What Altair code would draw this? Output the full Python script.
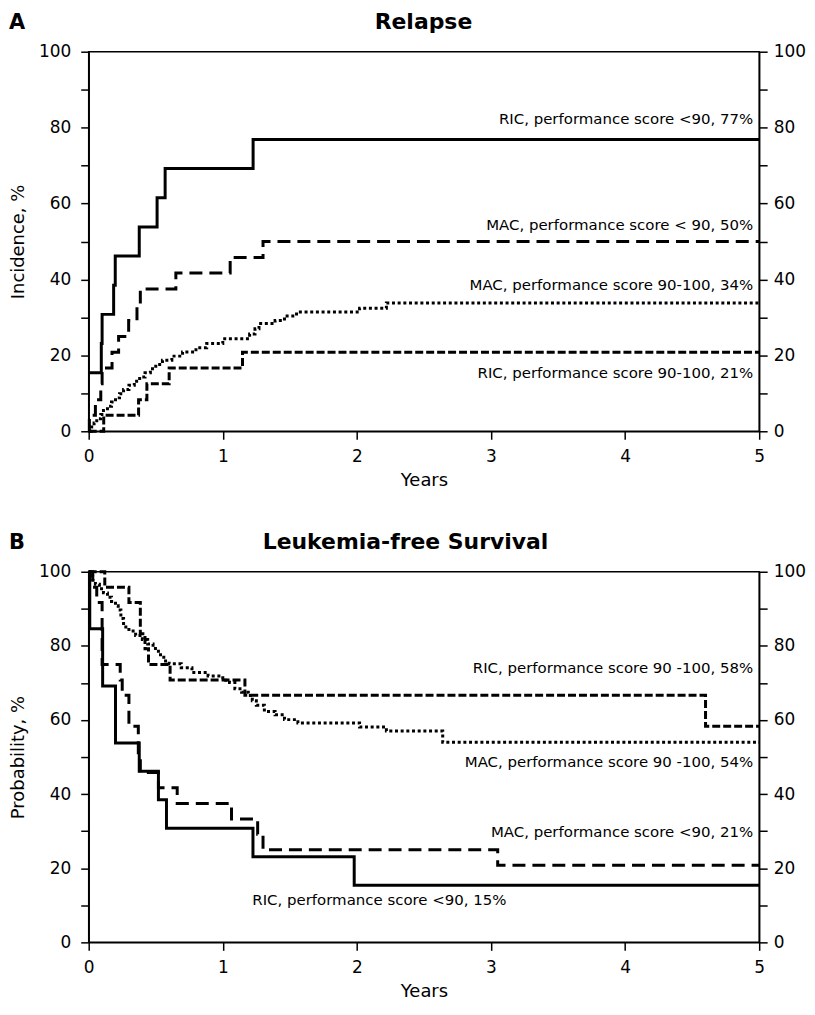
import altair as alt
import pandas as pd

FONT = "DejaVu Sans"

# ---------------- data ----------------
year_ticks = [0, 1, 2, 3, 4, 5]
pct_ticks = [0, 10, 20, 30, 40, 50, 60, 70, 80, 90, 100]

S_RIC_LT = "RIC <90"
S_MAC_LT = "MAC <90"
S_MAC_HI = "MAC 90-100"
S_RIC_HI = "RIC 90-100"
series_order = [S_RIC_LT, S_MAC_LT, S_MAC_HI, S_RIC_HI]

# Panel A: Relapse (cumulative incidence, %)
rel_ric_lt_t = [0, 0.094, 0.10, 0.186, 0.198, 0.377, 0.51, 0.57, 1.226, 5]
rel_ric_lt_v = [15.4, 23.1, 30.8, 38.5, 46.2, 53.8, 61.5, 69.2, 76.9, 76.9]

rel_mac_lt_t = [0, 0.005, 0.05, 0.09, 0.10, 0.174, 0.223, 0.298, 0.36, 0.385, 0.65, 1.055, 1.30, 5]
rel_mac_lt_v = [0, 4.2, 8.3, 12.5, 16.7, 20.8, 25.0, 29.2, 33.3, 37.5, 41.7, 45.8, 50.0, 50.0]

rel_mac_hi_t = [0, 0.02, 0.04, 0.06, 0.09, 0.11, 0.14, 0.17, 0.20, 0.23, 0.26, 0.30, 0.34, 0.38,
                0.42, 0.46, 0.50, 0.55, 0.62, 0.70, 0.80, 0.88, 1.00, 1.20, 1.24, 1.27, 1.39,
                1.46, 1.55, 2.02, 2.22, 5]
rel_mac_hi_v = [0, 1.1, 2.2, 3.3, 4.4, 5.5, 6.6, 7.7, 8.8, 9.9, 11.0, 12.1, 13.2, 14.3,
                15.4, 16.5, 17.6, 18.7, 19.8, 20.9, 22.0, 23.1, 24.4, 25.6, 27.0, 28.4, 29.2,
                30.4, 31.4, 32.4, 33.8, 33.8]

rel_ric_hi_t = [0, 0.112, 0.372, 0.434, 0.60, 1.147, 5]
rel_ric_hi_v = [0, 4.2, 8.3, 12.5, 16.7, 20.8, 20.8]

# Panel B: Leukemia-free survival (probability, %)
lfs_ric_lt_t = [0, 0.008, 0.104, 0.20, 0.377, 0.52, 0.58, 1.225, 1.98, 5]
lfs_ric_lt_v = [100, 84.6, 69.2, 53.8, 46.2, 38.5, 30.8, 23.1, 15.4, 15.4]

lfs_mac_lt_t = [0, 0.03, 0.06, 0.10, 0.235, 0.25, 0.30, 0.37, 0.385, 0.52, 0.66, 1.065, 1.26, 1.30, 3.05, 5]
lfs_mac_lt_v = [100, 95.8, 91.7, 75.0, 70.8, 66.7, 58.3, 50.0, 45.8, 41.7, 37.5, 33.3, 29.2, 25.0, 20.8, 20.8]

lfs_mac_hi_t = [0, 0.01, 0.03, 0.05, 0.08, 0.11, 0.14, 0.17, 0.20, 0.22, 0.24, 0.26, 0.30, 0.35,
                0.40, 0.44, 0.48, 0.52, 0.56, 0.60, 0.69, 0.77, 0.89, 1.00, 1.05, 1.09, 1.14,
                1.19, 1.22, 1.25, 1.31, 1.39, 1.46, 1.56, 2.02, 2.22, 2.64, 5]
lfs_mac_hi_v = [100, 98.9, 97.7, 96.6, 95.4, 94.3, 93.1, 92.0, 90.8, 89.7, 87.4, 85.1, 84.0, 82.8,
                81.7, 80.5, 79.3, 77.6, 75.9, 75.2, 74.1, 72.8, 71.9, 70.7, 70.1, 68.4, 67.5,
                66.6, 65.2, 64.0, 62.3, 61.4, 60.1, 59.2, 58.1, 57.0, 54.0, 54.0]

lfs_ric_hi_t = [0, 0.12, 0.30, 0.385, 0.42, 0.446, 0.607, 1.165, 4.6, 5]
lfs_ric_hi_v = [100, 95.8, 91.7, 83.3, 79.2, 75.0, 70.8, 66.7, 58.3, 58.3]

# curve annotations
rel_label_text = ["RIC, performance score <90, 77%", "MAC, performance score < 90, 50%",
                  "MAC, performance score 90-100, 34%", "RIC, performance score 90-100, 21%"]
rel_label_x = [5, 5, 5, 5]
rel_label_y = [82.2, 54.3, 38.5, 15.4]

lfs_label_text = ["RIC, performance score 90 -100, 58%", "MAC, performance score 90 -100, 54%",
                  "MAC, performance score <90, 21%"]
lfs_label_x = [5, 5, 5]
lfs_label_y = [73.9, 48.6, 29.9]

lfs_left_text = ["RIC, performance score <90, 15%"]
lfs_left_x = [1.22]
lfs_left_y = [11.5]


def curves(spec):
    rows = []
    for name, ts, vs in spec:
        for t, v in zip(ts, vs):
            rows.append({"series": name, "t": t, "v": v})
    return pd.DataFrame(rows)


rel_df = curves([(S_RIC_LT, rel_ric_lt_t, rel_ric_lt_v), (S_MAC_LT, rel_mac_lt_t, rel_mac_lt_v),
                 (S_MAC_HI, rel_mac_hi_t, rel_mac_hi_v), (S_RIC_HI, rel_ric_hi_t, rel_ric_hi_v)])
lfs_df = curves([(S_RIC_LT, lfs_ric_lt_t, lfs_ric_lt_v), (S_MAC_LT, lfs_mac_lt_t, lfs_mac_lt_v),
                 (S_MAC_HI, lfs_mac_hi_t, lfs_mac_hi_v), (S_RIC_HI, lfs_ric_hi_t, lfs_ric_hi_v)])

PLOT_W = 673

x_scale = alt.Scale(domain=[0, 5], nice=False, zero=False)
y_scale = alt.Scale(domain=[0, 100], nice=False)
dash_scale = alt.Scale(domain=series_order, range=[[1, 0], [13, 7], [3, 2.7], [8, 3]])
label_expr = "datum.value % 20 == 0 ? datum.label : ''"


def panel(df, ytitle, letter, title, title_x, height, labels_r, labels_l=None):
    x_axis = alt.Axis(values=year_ticks, format="d", title="Years", labelPadding=9, titlePadding=7,
                      labelFlush=False)
    y_left = alt.Axis(values=pct_ticks, labelExpr=label_expr, title=ytitle, orient="left",
                      labelPadding=10, titlePadding=11)
    y_right = alt.Axis(values=pct_ticks, labelExpr=label_expr, title=None, orient="right",
                       labelPadding=6)

    lines = alt.Chart(df).mark_line(interpolate="step-after", strokeWidth=3, color="black").encode(
        x=alt.X("t:Q", scale=x_scale, axis=x_axis),
        y=alt.Y("v:Q", scale=y_scale, axis=y_left),
        strokeDash=alt.StrokeDash("series:N", scale=dash_scale, legend=None),
    )
    right = alt.Chart(df).mark_point(opacity=0, size=1).encode(
        x=alt.X("t:Q", scale=x_scale, axis=None),
        y=alt.Y("v:Q", scale=y_scale, axis=y_right),
    )
    lt, lx, ly = labels_r
    lab_df = pd.DataFrame({"label": lt, "lx": lx, "ly": ly})
    texts = alt.Chart(lab_df).mark_text(font=FONT, fontSize=15, align="right", baseline="middle",
                                        dx=-6, color="black").encode(
        x=alt.X("lx:Q", scale=x_scale, axis=None),
        y=alt.Y("ly:Q", scale=y_scale, axis=None),
        text="label:N",
    )
    layers = [lines, right, texts]
    if labels_l is not None:
        lt2, lx2, ly2 = labels_l
        lab2 = pd.DataFrame({"label": lt2, "lx": lx2, "ly": ly2})
        layers.append(alt.Chart(lab2).mark_text(font=FONT, fontSize=15, align="left",
                                                baseline="middle", color="black").encode(
            x=alt.X("lx:Q", scale=x_scale, axis=None),
            y=alt.Y("ly:Q", scale=y_scale, axis=None),
            text="label:N",
        ))
    head_letter = alt.Chart(pd.DataFrame({"s": [letter]})).mark_text(
        font=FONT, fontSize=21, fontWeight="bold", align="left", baseline="alphabetic", color="black"
    ).encode(x=alt.value(-80), y=alt.value(-23), text="s:N")
    head_title = alt.Chart(pd.DataFrame({"s": [title]})).mark_text(
        font=FONT, fontSize=22, fontWeight="bold", align="center", baseline="alphabetic", color="black"
    ).encode(x=alt.value(title_x), y=alt.value(-23), text="s:N")
    layers += [head_letter, head_title]
    return alt.layer(*layers).resolve_axis(x="independent", y="independent").properties(
        width=PLOT_W, height=height)


panel_a = panel(rel_df, "Incidence, %", "A", "Relapse", 336, 381,
                (rel_label_text, rel_label_x, rel_label_y))
panel_b = panel(lfs_df, "Probability, %", "B", "Leukemia-free Survival", 318, 372,
                (lfs_label_text, lfs_label_x, lfs_label_y),
                (lfs_left_text, lfs_left_x, lfs_left_y))

chart = alt.vconcat(panel_a, panel_b, spacing=40).properties(
    padding=0
).configure_view(
    stroke="black", strokeWidth=1.5
).configure_axis(
    grid=False, domainColor="black", domainWidth=1.5, tickColor="black", tickWidth=1.5, tickSize=8,
    labelFont=FONT, labelFontSize=17, labelColor="black",
    titleFont=FONT, titleFontSize=18, titleFontWeight="normal", titleColor="black",
)

chart.save("out.html", embed_options={"renderer": "svg", "actions": False})
